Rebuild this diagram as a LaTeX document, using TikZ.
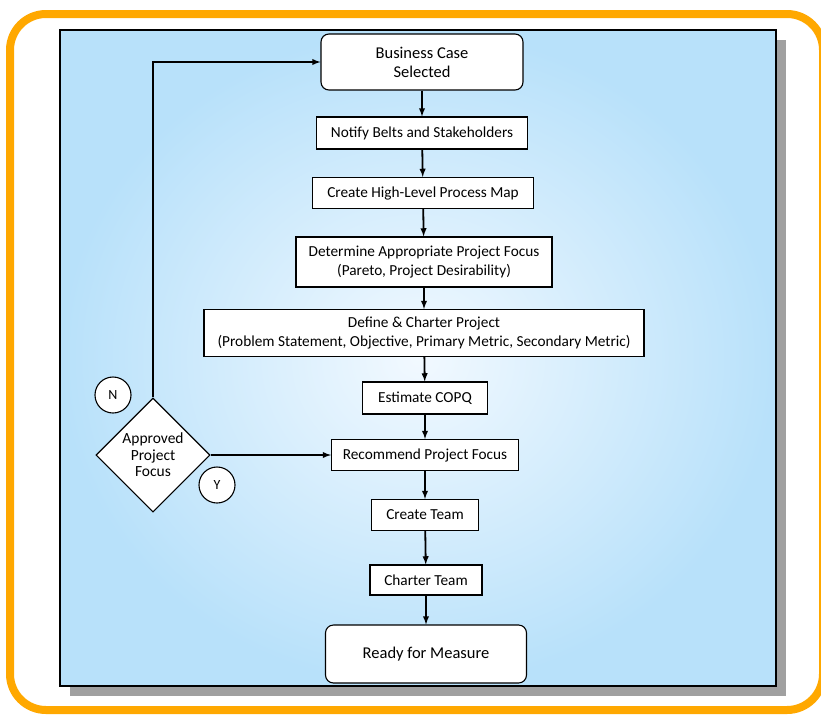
\documentclass[tikz,border=0pt]{standalone}
\usepackage{fontspec}
\setmainfont{Carlito}
\usetikzlibrary{shapes.geometric}

\definecolor{frameorange}{RGB}{255,168,0}
\definecolor{panelblue}{RGB}{184,225,250}
\definecolor{panelcore}{RGB}{242,249,255}
\definecolor{shadowgray}{RGB}{160,160,160}

\tikzset{
 procbox/.style={draw, line width=1.1pt, fill=white, align=center, inner sep=0pt, font=\fontsize{15.3}{19}\selectfont},
 endbox/.style={procbox, rounded corners=8pt, font=\fontsize{16.5}{19}\selectfont},
 choice/.style={diamond, draw, line width=1.1pt, fill=white, align=center, inner sep=0pt, minimum width=114pt, minimum height=114pt, font=\fontsize{15.5}{16.5}\selectfont},
 tag/.style={circle, draw, line width=1.1pt, fill=white, minimum size=36pt, inner sep=0pt, font=\fontsize{14}{16}\selectfont},
 flow/.style={-latex, line width=1.8pt}
}

\begin{document}
\begin{tikzpicture}[x=1pt,y=-1pt]
 \useasboundingbox (0,0) rectangle (821,715);
 \fill[white] (0,0) rectangle (821,715);

 % frame and panel
 \draw[frameorange, line width=8pt, rounded corners=36pt] (10,14) rectangle (823,710);
 \fill[shadowgray] (70,40) rectangle (786,696);
 \shade[inner color=panelcore, outer color=panelblue] (60,30) rectangle (776,686);
 \draw[line width=1.6pt] (60,30) rectangle (776,686);

 % main column
 \node[endbox, minimum width=202pt, minimum height=56pt] (bcs) at (422,62) {Business Case\\Selected};
 \node[procbox, minimum width=211pt, minimum height=32pt] (notify) at (422,133) {Notify Belts and Stakeholders};
 \node[procbox, minimum width=221pt, minimum height=31pt] (hlpm) at (423,193) {Create High-Level Process Map};
 \node[procbox, minimum width=256pt, minimum height=50pt] (focus) at (424,262) {Determine Appropriate Project Focus\\(Pareto, Project Desirability)};
 \node[procbox, minimum width=440pt, minimum height=47pt] (charter) at (424,333) {Define \& Charter Project\\(Problem Statement, Objective, Primary Metric, Secondary Metric)};
 \node[procbox, minimum width=125pt, minimum height=32pt] (copq) at (425,398) {Estimate COPQ};
 \node[procbox, minimum width=187pt, minimum height=31pt] (rec) at (425,455) {Recommend Project Focus};
 \node[procbox, minimum width=107pt, minimum height=31pt] (team) at (425,515) {Create Team};
 \node[procbox, minimum width=112pt, minimum height=30pt] (cteam) at (426,580) {Charter Team};
 \node[endbox, minimum width=201pt, minimum height=58pt] (ready) at (426,654) {Ready for Measure};

 % decision
 \node[choice] (appr) at (153,455) {Approved\\Project\\Focus};
 \node[tag] (no) at (113,395) {N};
 \node[tag] (yes) at (217,485) {Y};

 \draw[flow] (bcs) -- (notify);
 \draw[flow] (notify) -- (hlpm);
 \draw[flow] (hlpm) -- (focus);
 \draw[flow] (focus) -- (charter);
 \draw[flow] (charter) -- (copq);
 \draw[flow] (copq) -- (rec);
 \draw[flow] (rec) -- (team);
 \draw[flow] (team) -- (cteam);
 \draw[flow] (cteam) -- (ready);

 \draw[flow] (appr.east) -- (rec.west);
 \draw[flow] (appr.north) |- (bcs.west);

\end{tikzpicture}
\end{document}
